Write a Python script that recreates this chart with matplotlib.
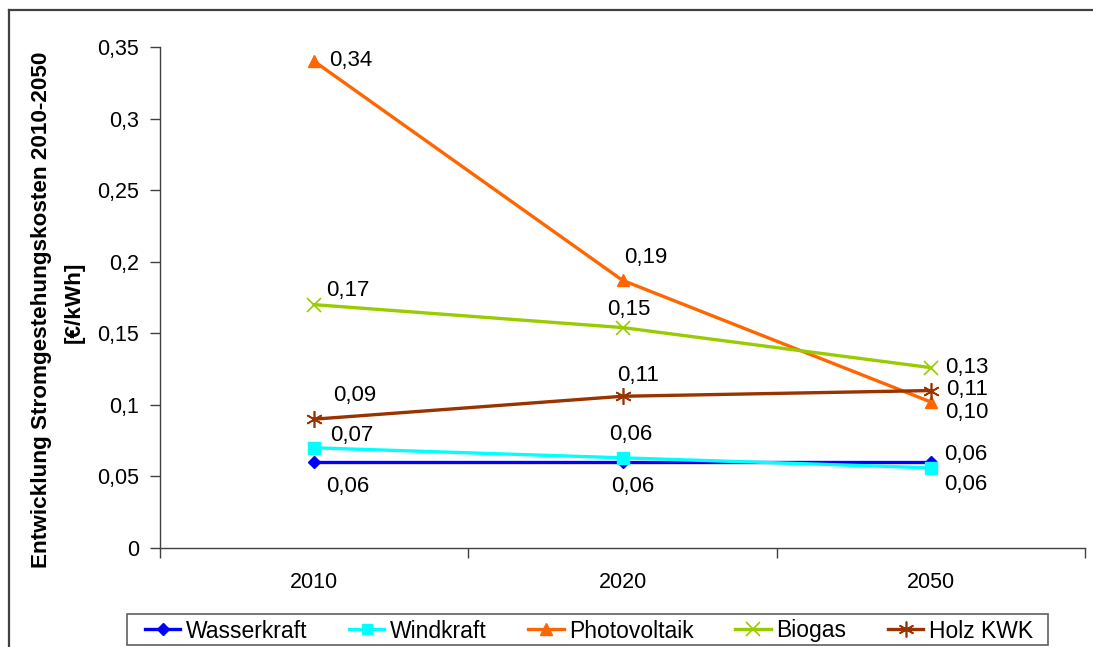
import matplotlib
matplotlib.use("Agg")
import matplotlib.pyplot as plt
from matplotlib.lines import Line2D
from matplotlib.patches import Rectangle
from matplotlib.ticker import FixedLocator, FuncFormatter

plt.rcParams['font.family'] = ['Liberation Sans', 'DejaVu Sans']

years = ["2010", "2020", "2050"]
wasserkraft = [0.060, 0.060, 0.060]
windkraft = [0.070, 0.063, 0.056]
photovoltaik = [0.340, 0.187, 0.102]
biogas = [0.170, 0.154, 0.126]
holz_kwk = [0.090, 0.106, 0.110]

series_names = ["Wasserkraft", "Windkraft", "Photovoltaik", "Biogas", "Holz KWK"]
series_values = [wasserkraft, windkraft, photovoltaik, biogas, holz_kwk]
colors = ["#0000FF", "#00FFFF", "#FF6600", "#99CC00", "#993300"]
markers = ["D", "s", "^", "x", (6, 2, 0)]
marker_sizes = [6, 8, 9, 10, 12]
marker_edge = [1, 1, 1, 1.2, 1.2]

# label offsets (pixels) of each value label relative to its point
label_offsets = [
    [(34, -24), (10, -24), (35, 8)],
    [(38, 12), (8, 23), (35, -17)],
    [(37, 1), (23, 23), (36, -11)],
    [(34, 14), (6, 18), (36, 0)],
    [(41, 24), (16, 21), (36, 1)],
]

W, H = 1093, 647
fig = plt.figure(figsize=(W / 100, H / 100), dpi=100)
ax = fig.add_axes([160 / W, 1 - 548 / H, 925 / W, 501 / H])

FS_LABEL = 16
FS_TICK = 15.5

x = list(range(len(years)))
for name, vals, col, mk, ms, mew, offs in zip(series_names, series_values, colors,
                                                markers, marker_sizes, marker_edge,
                                                label_offsets):
    ax.plot(x, vals, color=col, lw=2.4, marker=mk, markersize=ms,
            markeredgewidth=mew, markerfacecolor=col, markeredgecolor=col,
            label=name, zorder=3, clip_on=False)
    for xi, v, (dx, dy) in zip(x, vals, offs):
        ax.annotate(f"{v:.2f}".replace(".", ","), (xi, v), xytext=(dx, dy),
                    textcoords="offset pixels", ha="center", va="center",
                    fontsize=FS_LABEL, color="black", zorder=4)

ax.set_xlim(-0.5, len(years) - 0.5)
ax.set_ylim(0, 0.35)

yt = [0, 0.05, 0.1, 0.15, 0.2, 0.25, 0.3, 0.35]
ax.yaxis.set_major_locator(FixedLocator(yt))
ax.yaxis.set_major_formatter(FuncFormatter(lambda v, p: f"{v:g}".replace(".", ",")))
ax.set_xticks(x)
ax.set_xticklabels(years)
ax.xaxis.set_minor_locator(FixedLocator([i - 0.5 for i in range(len(years) + 1)]))
ax.tick_params(axis="x", which="major", length=0, pad=17, labelsize=FS_TICK)
ax.tick_params(axis="x", which="minor", length=7, width=1, direction="out", color="#404040")
ax.tick_params(axis="y", which="major", length=7, width=1, direction="out",
               color="#404040", pad=8, labelsize=FS_TICK)

for s in ["top", "right"]:
    ax.spines[s].set_visible(False)
for s in ["left", "bottom"]:
    ax.spines[s].set_color("#404040")
    ax.spines[s].set_linewidth(1)

fig.text(42 / W, 1 - 310 / H, "Entwicklung Stromgestehungskosten 2010-2050",
         rotation=90, ha="center", va="center", fontsize=16.2, fontweight="bold")
fig.text(74 / W, 1 - 302 / H, "[€/kWh]",
         rotation=90, ha="center", va="center", fontsize=16.2, fontweight="bold")

# outer chart border
fig.add_artist(Line2D([9 / W, 1.0], [1 - 10 / H, 1 - 10 / H], transform=fig.transFigure,
                      color="#404040", lw=1.6))
fig.add_artist(Line2D([9 / W, 9 / W], [1 - 10 / H, 0], transform=fig.transFigure,
                      color="#404040", lw=1.6))

# legend: entries without own frame, box drawn separately
handles, labels = ax.get_legend_handles_labels()
leg = fig.legend(handles, labels, loc="center", bbox_to_anchor=(589 / W, 1 - 631 / H),
                 ncol=5, frameon=False, fontsize=16.5,
                 handlelength=1.55, columnspacing=1.8, handletextpad=0.25,
                 borderpad=0.0, markerscale=0.95)
fig.add_artist(Rectangle((127 / W, 1 - 645 / H), (1048 - 127) / W, 31 / H,
                         transform=fig.transFigure, fill=False,
                         edgecolor="#606060", lw=1.2, zorder=5))

fig.savefig("out.png", dpi=100)
